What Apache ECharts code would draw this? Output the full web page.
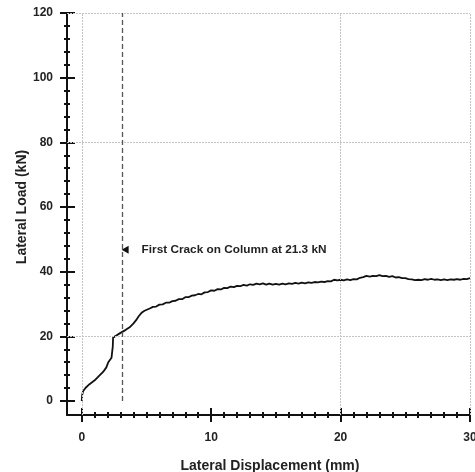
<!DOCTYPE html>
<html>
<head>
<meta charset="utf-8">
<script src="https://cdn.jsdelivr.net/npm/echarts@6/dist/echarts.min.js"></script>
<style>html,body{margin:0;padding:0;background:#fff}#c{width:475px;height:472px}</style>
</head>
<body>
<div id="c"></div>
<script>
// ---- data ----
const dispMM = [0,0.03,0.1,0.3,0.6,1.0,1.3,1.65,1.9,2.05,2.2,2.3,2.38,2.4,2.42,2.55,2.8,3.1,3.4,3.7,4.0,4.2,4.4,4.65,4.85,
  5.0,5.25,5.5,5.75,6.0,6.25,6.5,6.75,7.0,7.25,7.5,7.75,8.0,8.25,8.5,8.75,9.0,9.25,9.5,9.75,
  10.0,10.25,10.5,10.75,11.0,11.25,11.5,11.75,12.0,12.25,12.5,12.75,13.0,13.25,13.5,13.75,14.0,14.25,14.5,14.75,
  15.0,15.25,15.5,15.75,16.0,16.25,16.5,16.75,17.0,17.25,17.5,17.75,18.0,18.25,18.5,18.75,19.0,19.25,19.5,19.75,
  20.0,20.25,20.5,20.75,21.0,21.25,21.5,21.75,22.0,22.25,22.5,22.75,23.0,23.25,23.5,23.75,24.0,24.25,24.5,24.75,
  25.0,25.25,25.5,25.75,26.0,26.25,26.5,26.75,27.0,27.25,27.5,27.75,28.0,28.25,28.5,28.75,29.0,29.25,29.5,29.75,30.0];
const loadKN = [0,1.8,3.0,4.1,5.2,6.4,7.6,9.0,10.4,12.0,12.6,13.4,14.0,17.0,19.6,20.0,20.6,21.3,22.0,22.8,24.0,25.0,26.2,27.4,27.9,
  28.3,28.6,29.1,29.2,29.8,29.9,30.4,30.4,30.9,31.0,31.5,31.5,32.1,32.1,32.6,32.7,33.1,33.0,33.6,33.7,
  34.2,34.1,34.6,34.5,35.0,34.9,35.4,35.2,35.6,35.5,35.9,35.7,36.1,35.9,36.3,36.1,36.4,36.0,36.3,36.0,
  36.2,36.0,36.3,36.1,36.4,36.2,36.5,36.3,36.6,36.4,36.7,36.5,36.8,36.7,36.9,36.8,37.1,37.0,37.5,37.3,
  37.5,37.3,37.6,37.4,37.7,37.6,38.1,38.3,38.7,38.5,38.7,38.6,38.9,38.6,38.7,38.4,38.6,38.2,38.3,38.0,
  38.0,37.7,37.6,37.4,37.5,37.4,37.7,37.5,37.8,37.5,37.6,37.4,37.6,37.4,37.6,37.5,37.7,37.5,37.8,37.7,38.0];
const xMajor = [0,10,20,30];
const xMinor = [1,2,3,4,5,6,7,8,9,11,12,13,14,15,16,17,18,19,21,22,23,24,25,26,27,28,29];
const yMajor = [0,20,40,60,80,100,120];
const yMinor = [4,8,12,16,24,28,32,36,44,48,52,56,64,68,72,76,84,88,92,96,104,108,112,116];
const gridX = [0,20,30];
const gridY = [20,80,120];
const crackX = 3.1;
const crackNote = 'First Crack on Column at 21.3 kN';
const noteAt = [3.35,46.8];
const xTitle = 'Lateral Displacement (mm)';
const yTitle = 'Lateral Load (kN)';

// ---- chart ----
const FONT = 'Liberation Sans, Arial, sans-serif';
const INK = '#111';
const X0 = -1.14, X1 = 30, Y0 = -4.33, Y1 = 120;

function tickAxis(dim, vals, len, inside, main) {
  const a = {
    type:'value', min: dim==='x'?X0:Y0, max: dim==='x'?X1:Y1,
    position: dim==='x'?'bottom':'left',
    axisLine:{show:!!main, onZero:false, lineStyle:{color:INK,width:2}},
    axisTick:{show:true, customValues: vals, length: len, inside: inside, lineStyle:{color:INK,width:2}},
    axisLabel:{show:false},
    splitLine:{show:false}
  };
  if (main) {
    a.axisLabel = {show:true, customValues: vals, fontFamily:FONT, fontWeight:'bold', fontSize:12, color:'#222', margin: dim==='x'?17:14};
    a.name = dim==='x'?xTitle:yTitle;
    a.nameLocation = 'middle';
    a.nameMoveOverlap = false;
    a.nameGap = dim==='x'?44:38;
    a.nameTextStyle = dim==='x'
      ? {fontFamily:FONT, fontWeight:'bold', fontSize:14, color:'#222', padding:[0,0,0,3]}
      : {fontFamily:FONT, fontWeight:'bold', fontSize:14, color:'#222', padding:[0,0,0,14]};
  }
  return a;
}

const chart = echarts.init(document.getElementById('c'), null, {renderer:'canvas'});
const gridLineStyle = {color:'#c4c4c4', width:1, type:[2,1]};
chart.setOption({
  animation:false,
  backgroundColor:'#fff',
  grid:{left:67, right:5, top:13, bottom:57, containLabel:false, outerBoundsMode:'none'},
  xAxis:[
    tickAxis('x', xMajor, 7, false, true),
    tickAxis('x', xMajor, 7, true, false),
    tickAxis('x', xMinor, 3, false, false),
    tickAxis('x', xMinor, 3, true, false)
  ],
  yAxis:[
    tickAxis('y', yMajor, 7, false, true),
    tickAxis('y', yMajor, 8, true, false),
    tickAxis('y', yMinor, 3, false, false),
    tickAxis('y', yMinor, 3, true, false)
  ],
  series:[
    {
      type:'line', xAxisIndex:0, yAxisIndex:0, z:1,
      data:[], silent:true,
      markLine:{
        silent:true, symbol:'none', label:{show:false},
        data: gridX.map(v=>({xAxis:v, lineStyle:gridLineStyle}))
          .concat(gridY.map(v=>({yAxis:v, lineStyle:gridLineStyle})))
      }
    },
    {
      type:'line', xAxisIndex:0, yAxisIndex:0, z:3,
      data: dispMM.map((x,i)=>[x, loadKN[i]]),
      showSymbol:false, symbol:'none',
      lineStyle:{color:'#111', width:1.8},
      markLine:{
        silent:true, symbol:'none', label:{show:false},
        lineStyle:{color:'#555', width:1.3, type:[5,3]},
        data:[[{coord:[crackX,0]},{coord:[crackX,120]}]]
      },
      markPoint:{
        silent:true,
        data:[{
          coord: noteAt, symbol:'triangle', symbolRotate:90, symbolSize:[8,7],
          itemStyle:{color:'#111'},
          label:{show:true, position:'right', distance:13, formatter: crackNote,
            fontFamily:FONT, fontWeight:'bold', fontSize:11.8, color:'#222'}
        }]
      }
    }
  ]
});
</script>
</body>
</html>
